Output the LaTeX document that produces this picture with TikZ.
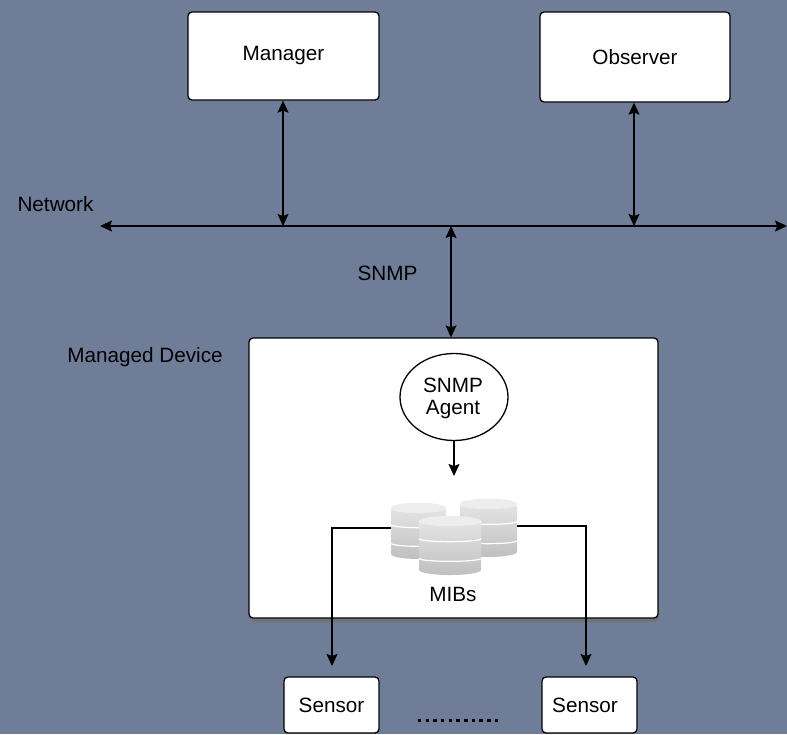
\documentclass[tikz,border=0pt]{standalone}
\usepackage{fontspec}
\setmainfont{Liberation Sans}
\usetikzlibrary{arrows.meta,shapes.geometric}
\definecolor{slatebg}{HTML}{707D99}
\newcommand{\mibstack}[5]{%
  \node (#1) [minimum width=#4pt,minimum height=#5pt,inner sep=0pt] at (#2,#3) {};
  \begin{scope}[shift={(#2,#3)},x=1pt,y=1pt]
    \path[top color=gray!18,bottom color=gray!50]
      (-#4/2,#5/2-5) -- (-#4/2,-#5/2+5) arc[start angle=180,end angle=360,x radius=#4/2,y radius=5]
      -- (#4/2,#5/2-5) arc[start angle=0,end angle=180,x radius=#4/2,y radius=5];
    \draw[white,line width=1.2pt] (-#4/2,#5/2-5) arc[start angle=180,end angle=360,x radius=#4/2,y radius=4];
    \draw[white,line width=1.2pt] (-#4/2,#5/6-3) arc[start angle=180,end angle=360,x radius=#4/2,y radius=3];
    \draw[white,line width=1.2pt] (-#4/2,-#5/6-3) arc[start angle=180,end angle=360,x radius=#4/2,y radius=3];
    \fill[gray!14] (0,#5/2-5) ellipse[x radius=#4/2,y radius=5];
  \end{scope}}
\tikzset{
  >={Stealth[length=12pt,width=11pt,inset=2pt]},
  box/.style={draw,fill=white,rounded corners=4pt,line width=1.3pt,inner sep=0pt},
  caption/.style={font=\fontsize{20.7}{22}\selectfont,inner sep=0pt,align=center},
  link/.style={<->,line width=1.3pt},
  feed/.style={->,line width=1.7pt}
}
\begin{document}
\begin{tikzpicture}[x=1pt,y=-1pt]
  \clip (0,0) rectangle (787,734);
  \fill[slatebg] (0,0) rectangle (787,734);
  \node (Manager) [box,caption,minimum width=191pt,minimum height=88pt] at (283.5,56) {Manager};
  \node (Observer) [box,caption,minimum width=190pt,minimum height=90pt] at (635,57) {Observer};
  \node (NetLabel) [caption] at (55.5,204) {Network};
  \coordinate (NetL) at (100,226);
  \coordinate (NetR) at (787,226);
  \coordinate (NetM) at (283,226);
  \coordinate (NetO) at (634,226);
  \coordinate (NetA) at (451,226);
  \node (SnmpLabel) [caption] at (387.5,273) {SNMP};
  \fill[black!55,rounded corners=4pt] (250,342) rectangle (659,622);
  \node (Device) [box,minimum width=409pt,minimum height=280pt] at (453.5,478) {};
  \node (DevLabel) [caption] at (145,357) {Managed Device};
  \node (Agent) [draw,fill=white,ellipse,line width=1.3pt,minimum width=108pt,minimum height=87pt,inner sep=0pt,caption] at (454,397) {};
  \node (AgentText) [caption] at (453,398) {SNMP\\Agent};
  \mibstack{MibR}{488.5}{528}{57}{58}
  \mibstack{MibL}{418.5}{531}{55}{56}
  \mibstack{MibF}{450}{545.5}{62}{59}
  \node (MibLabel) [caption] at (453,594) {MIBs};
  \node (SensorA) [box,caption,minimum width=95pt,minimum height=56pt] at (331.5,705) {Sensor};
  \node (SensorB) [box,caption,minimum width=95pt,minimum height=56pt] at (589.5,705) {};
  \node (SensorBText) [caption] at (585,705) {Sensor};
  \coordinate (TipA) at (332,666);
  \coordinate (TipB) at (586,666);
  \node (Dots) [inner sep=0pt,minimum width=82pt,minimum height=4pt] at (459,720) {};
  \draw[line width=3pt,dash pattern=on 3.5pt off 4.2pt] (Dots.west) -- (Dots.east);
  \draw[link] (NetL) -- (NetR);
  \draw[link] (Manager.south -| NetM) -- (NetM);
  \draw[link] (Observer.south -| NetO) -- (NetO);
  \draw[link] (NetA) -- (Device.north -| NetA);
  \draw[->,line width=1.3pt] (Agent.south) -- (454,476);
  \draw[feed] (MibL.west |- 0,528) -- (332,528) -- (TipA);
  \draw[feed] (MibR.east |- 0,526) -- (586,526) -- (TipB);
\end{tikzpicture}
\end{document}
